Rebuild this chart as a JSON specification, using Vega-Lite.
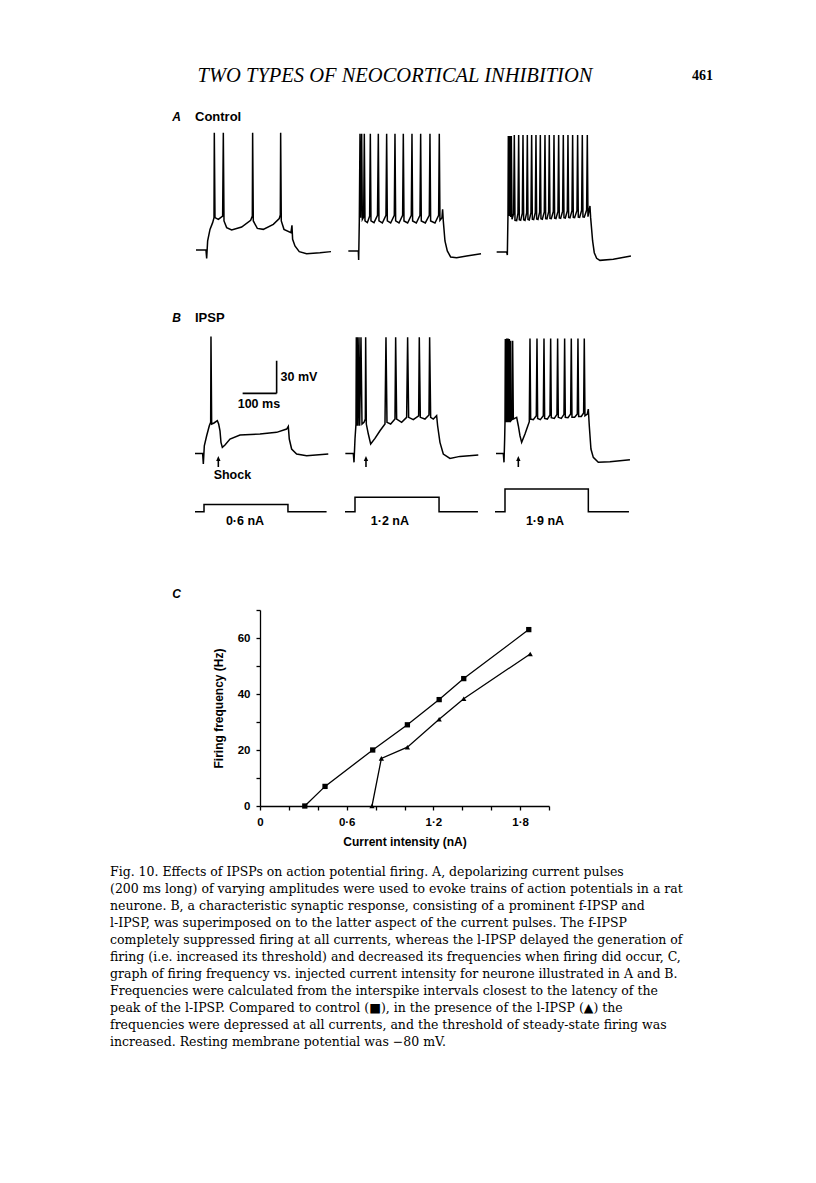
{
"$schema": "https://vega.github.io/schema/vega-lite/v6.json",
"background": "white",
"padding": {"left": 110, "top": 66, "right": 0, "bottom": 0},
"config": {"view": {"stroke": null}, "font": "Liberation Sans"},
"datasets": {
"header": [{"part": "title", "text": "TWO TYPES OF NEOCORTICAL INHIBITION"}, {"part": "page", "text": "461"}],
"labels": [{"row": "A", "kind": "letter", "text": "A"}, {"row": "A", "kind": "name", "text": "Control"}, {"row": "B", "kind": "letter", "text": "B"}, {"row": "B", "kind": "name", "text": "IPSP"}, {"row": "C", "kind": "letter", "text": "C"}],
"traces": [
{"cond":"A1","t":2.9,"v":-79.7},{"cond":"A1","t":32.3,"v":-79.7},{"cond":"A1","t":34.3,"v":-87.5},{"cond":"A1","t":37.2,"v":-71.2},{"cond":"A1","t":44.1,"v":-60.3},{"cond":"A1","t":51.9,"v":-54.0},{"cond":"A1","t":55.9,"v":-49.3},{"cond":"A1","t":56.8,"v":30.4},{"cond":"A1","t":58.8,"v":-49.3},{"cond":"A1","t":68.6,"v":-50.9},{"cond":"A1","t":81.3,"v":-47.8},{"cond":"A1","t":83.3,"v":30.4},{"cond":"A1","t":85.3,"v":-52.4},{"cond":"A1","t":93.1,"v":-58.7},{"cond":"A1","t":107.8,"v":-60.9},{"cond":"A1","t":137.2,"v":-58.1},{"cond":"A1","t":163.7,"v":-51.8},{"cond":"A1","t":168.6,"v":-47.8},{"cond":"A1","t":169.5,"v":30.4},{"cond":"A1","t":171.5,"v":-52.4},{"cond":"A1","t":183.3,"v":-59.4},{"cond":"A1","t":200.9,"v":-60.3},{"cond":"A1","t":230.3,"v":-55.6},{"cond":"A1","t":247.9,"v":-50.1},{"cond":"A1","t":250.9,"v":-46.8},{"cond":"A1","t":251.9,"v":30.4},{"cond":"A1","t":253.8,"v":-52.4},{"cond":"A1","t":261.7,"v":-60.3},{"cond":"A1","t":282.2,"v":-63.4},{"cond":"A1","t":285.2,"v":-56.5},{"cond":"A1","t":287.1,"v":-69.6},{"cond":"A1","t":294,"v":-75.9},{"cond":"A1","t":306.7,"v":-81.2},{"cond":"A1","t":328.3,"v":-83.1},{"cond":"A1","t":367.5,"v":-82.2},{"cond":"A1","t":400,"v":-81.2},
{"cond":"A2","t":9.8,"v":-80.6},{"cond":"A2","t":39.2,"v":-80.6},{"cond":"A2","t":40.2,"v":-89.0},{"cond":"A2","t":42.1,"v":-52.4},{"cond":"A2","t":44.1,"v":29.5},{"cond":"A2","t":46.1,"v":-49.3},{"cond":"A2","t":49,"v":29.5},{"cond":"A2","t":51,"v":-50.9},{"cond":"A2","t":54.9,"v":-48.7},{"cond":"A2","t":56.8,"v":29.5},{"cond":"A2","t":58.8,"v":-52.4},{"cond":"A2","t":65.7,"v":-54.0},{"cond":"A2","t":72.5,"v":-47.8},{"cond":"A2","t":74.5,"v":29.5},{"cond":"A2","t":76.4,"v":-52.4},{"cond":"A2","t":85.3,"v":-54.0},{"cond":"A2","t":95.6,"v":-47.1},{"cond":"A2","t":98,"v":29.5},{"cond":"A2","t":99.9,"v":-52.4},{"cond":"A2","t":109.8,"v":-54.3},{"cond":"A2","t":120.5,"v":-47.1},{"cond":"A2","t":122.5,"v":29.5},{"cond":"A2","t":124.5,"v":-52.4},{"cond":"A2","t":134.3,"v":-54.3},{"cond":"A2","t":145,"v":-47.1},{"cond":"A2","t":147,"v":29.5},{"cond":"A2","t":149,"v":-52.4},{"cond":"A2","t":158.8,"v":-54.3},{"cond":"A2","t":169.5,"v":-47.1},{"cond":"A2","t":171.5,"v":29.5},{"cond":"A2","t":173.5,"v":-52.4},{"cond":"A2","t":184.2,"v":-54.3},{"cond":"A2","t":195,"v":-47.1},{"cond":"A2","t":197,"v":29.5},{"cond":"A2","t":198.9,"v":-52.4},{"cond":"A2","t":209.7,"v":-54.3},{"cond":"A2","t":220.5,"v":-47.1},{"cond":"A2","t":222.5,"v":29.5},{"cond":"A2","t":224.4,"v":-52.4},{"cond":"A2","t":236.2,"v":-54.3},{"cond":"A2","t":247.9,"v":-47.1},{"cond":"A2","t":249.9,"v":29.5},{"cond":"A2","t":251.9,"v":-52.4},{"cond":"A2","t":264.6,"v":-54.3},{"cond":"A2","t":275.4,"v":-47.1},{"cond":"A2","t":277.3,"v":29.5},{"cond":"A2","t":279.3,"v":-51.8},{"cond":"A2","t":285.2,"v":-49.3},{"cond":"A2","t":287.1,"v":-41.5},{"cond":"A2","t":289.1,"v":-52.4},{"cond":"A2","t":294,"v":-71.2},{"cond":"A2","t":300.9,"v":-80.6},{"cond":"A2","t":310.7,"v":-86.2},{"cond":"A2","t":328.3,"v":-86.9},{"cond":"A2","t":357.7,"v":-85.3},{"cond":"A2","t":400,"v":-83.1},
{"cond":"A3","t":4.9,"v":-81.5},{"cond":"A3","t":34.3,"v":-81.5},{"cond":"A3","t":36.3,"v":-84.4},{"cond":"A3","t":38.2,"v":-46.2},{"cond":"A3","t":39.2,"v":27.3},{"cond":"A3","t":40.2,"v":-47.8},{"cond":"A3","t":42.1,"v":27.3},{"cond":"A3","t":43.1,"v":-47.8},{"cond":"A3","t":45.1,"v":27.3},{"cond":"A3","t":46.1,"v":-48.7},{"cond":"A3","t":48,"v":27.3},{"cond":"A3","t":50,"v":-50.9},{"cond":"A3","t":54.9,"v":-45.6},{"cond":"A3","t":56.8,"v":28.3},{"cond":"A3","t":58.8,"v":-51.8},{"cond":"A3","t":63.7,"v":-52.1},
{"cond":"A3","t":67.6,"v":-45.0},{"cond":"A3","t":69.6,"v":28.3},{"cond":"A3","t":71.5,"v":-51.2},{"cond":"A3","t":75.5,"v":-51.8},
{"cond":"A3","t":80.4,"v":-45.0},{"cond":"A3","t":82.3,"v":28.3},{"cond":"A3","t":84.3,"v":-51.2},{"cond":"A3","t":88.2,"v":-51.8},
{"cond":"A3","t":93.1,"v":-44.8},{"cond":"A3","t":95.1,"v":28.3},{"cond":"A3","t":97,"v":-51.0},{"cond":"A3","t":100.9,"v":-51.5},
{"cond":"A3","t":105.8,"v":-44.6},{"cond":"A3","t":107.8,"v":28.3},{"cond":"A3","t":109.8,"v":-50.8},{"cond":"A3","t":113.7,"v":-51.2},
{"cond":"A3","t":118.6,"v":-44.4},{"cond":"A3","t":120.5,"v":28.3},{"cond":"A3","t":122.5,"v":-50.6},{"cond":"A3","t":126.4,"v":-51.0},
{"cond":"A3","t":131.3,"v":-44.2},{"cond":"A3","t":133.3,"v":28.3},{"cond":"A3","t":135.2,"v":-50.4},{"cond":"A3","t":139.2,"v":-50.8},
{"cond":"A3","t":145,"v":-44.0},{"cond":"A3","t":147,"v":28.3},{"cond":"A3","t":149,"v":-50.2},{"cond":"A3","t":152.9,"v":-50.5},
{"cond":"A3","t":157.8,"v":-43.8},{"cond":"A3","t":159.7,"v":28.3},{"cond":"A3","t":161.7,"v":-50.0},{"cond":"A3","t":165.6,"v":-50.3},
{"cond":"A3","t":171.5,"v":-43.6},{"cond":"A3","t":173.5,"v":28.3},{"cond":"A3","t":175.4,"v":-49.8},{"cond":"A3","t":179.3,"v":-50.1},
{"cond":"A3","t":185.2,"v":-43.4},{"cond":"A3","t":187.2,"v":28.3},{"cond":"A3","t":189.1,"v":-49.6},{"cond":"A3","t":193.1,"v":-49.9},
{"cond":"A3","t":198.9,"v":-43.2},{"cond":"A3","t":200.9,"v":28.3},{"cond":"A3","t":202.9,"v":-49.4},{"cond":"A3","t":206.8,"v":-49.7},
{"cond":"A3","t":212.7,"v":-43.0},{"cond":"A3","t":214.6,"v":28.3},{"cond":"A3","t":216.6,"v":-49.2},{"cond":"A3","t":220.5,"v":-49.5},
{"cond":"A3","t":226.4,"v":-42.8},{"cond":"A3","t":228.3,"v":28.3},{"cond":"A3","t":230.3,"v":-49.0},{"cond":"A3","t":234.2,"v":-49.3},
{"cond":"A3","t":241.1,"v":-42.6},{"cond":"A3","t":243,"v":28.3},{"cond":"A3","t":245,"v":-48.8},{"cond":"A3","t":248.9,"v":-49.1},
{"cond":"A3","t":254.8,"v":-42.4},{"cond":"A3","t":256.8,"v":28.3},{"cond":"A3","t":258.7,"v":-48.6},{"cond":"A3","t":262.6,"v":-48.9},
{"cond":"A3","t":269.5,"v":-42.2},{"cond":"A3","t":271.5,"v":28.3},{"cond":"A3","t":273.4,"v":-48.4},
{"cond":"A3","t":277.3,"v":-41.5},{"cond":"A3","t":279.3,"v":-38.4},{"cond":"A3","t":281.3,"v":-49.3},{"cond":"A3","t":287.1,"v":-71.2},{"cond":"A3","t":292,"v":-82.2},{"cond":"A3","t":298.9,"v":-87.5},{"cond":"A3","t":308.7,"v":-89.4},{"cond":"A3","t":347.9,"v":-88.4},{"cond":"A3","t":399.8,"v":-85.3},
{"cond":"B1","t":0,"v":-79.3},{"cond":"B1","t":22.5,"v":-79.3},{"cond":"B1","t":24.5,"v":-89.3},{"cond":"B1","t":27.4,"v":-72.1},{"cond":"B1","t":34.3,"v":-62.7},{"cond":"B1","t":42.1,"v":-53.3},{"cond":"B1","t":46.1,"v":-50.1},{"cond":"B1","t":47,"v":30.7},{"cond":"B1","t":49,"v":-51.7},{"cond":"B1","t":55.9,"v":-50.7},{"cond":"B1","t":65.7,"v":-48.6},{"cond":"B1","t":69.6,"v":-51.7},{"cond":"B1","t":73.5,"v":-58},{"cond":"B1","t":76.4,"v":-68.9},{"cond":"B1","t":80.4,"v":-73.6},{"cond":"B1","t":88.2,"v":-71.4},{"cond":"B1","t":102.9,"v":-65.8},{"cond":"B1","t":132.3,"v":-62},{"cond":"B1","t":191.1,"v":-61.1},{"cond":"B1","t":240.1,"v":-59.5},{"cond":"B1","t":269.5,"v":-56.4},{"cond":"B1","t":274.4,"v":-53.9},{"cond":"B1","t":277.3,"v":-65.8},{"cond":"B1","t":284.2,"v":-75.2},{"cond":"B1","t":298.9,"v":-79.9},{"cond":"B1","t":328.3,"v":-81.5},{"cond":"B1","t":392,"v":-79.9},
{"cond":"B2","t":1,"v":-79.3},{"cond":"B2","t":24.5,"v":-79.3},{"cond":"B2","t":26.5,"v":-87.7},{"cond":"B2","t":29.4,"v":-65.8},{"cond":"B2","t":32.3,"v":-51.7},{"cond":"B2","t":33.3,"v":29.8},{"cond":"B2","t":34.3,"v":-53.3},{"cond":"B2","t":36.3,"v":29.8},{"cond":"B2","t":38.2,"v":-53.3},{"cond":"B2","t":41.2,"v":29.8},{"cond":"B2","t":43.1,"v":-53.3},{"cond":"B2","t":47,"v":29.8},{"cond":"B2","t":50,"v":-51.7},{"cond":"B2","t":55.9,"v":-50.1},{"cond":"B2","t":59.8,"v":-47},{"cond":"B2","t":60.8,"v":29.8},{"cond":"B2","t":62.7,"v":-51.7},{"cond":"B2","t":68.6,"v":-61.1},{"cond":"B2","t":75.5,"v":-70.5},{"cond":"B2","t":88.2,"v":-65.2},{"cond":"B2","t":102.9,"v":-58},{"cond":"B2","t":117.6,"v":-51.7},{"cond":"B2","t":120.5,"v":29.8},{"cond":"B2","t":123.5,"v":-50.1},{"cond":"B2","t":134.3,"v":-51.7},{"cond":"B2","t":147,"v":-47},{"cond":"B2","t":149,"v":29.8},{"cond":"B2","t":151.9,"v":-47},{"cond":"B2","t":166.6,"v":-50.1},{"cond":"B2","t":181.3,"v":-45.4},{"cond":"B2","t":184.2,"v":29.8},{"cond":"B2","t":187.2,"v":-45.4},{"cond":"B2","t":200.9,"v":-47.6},{"cond":"B2","t":216.6,"v":-43.9},{"cond":"B2","t":218.5,"v":29.8},{"cond":"B2","t":221.5,"v":-45.4},{"cond":"B2","t":235.2,"v":-47},{"cond":"B2","t":247,"v":-43.2},{"cond":"B2","t":248.9,"v":29.8},{"cond":"B2","t":251.9,"v":-45.4},{"cond":"B2","t":259.7,"v":-47},{"cond":"B2","t":269.5,"v":-43.9},{"cond":"B2","t":272.4,"v":-53.3},{"cond":"B2","t":279.3,"v":-68.9},{"cond":"B2","t":289.1,"v":-79.9},{"cond":"B2","t":308.7,"v":-84},{"cond":"B2","t":338.1,"v":-82.1},{"cond":"B2","t":392,"v":-80.8},
{"cond":"B3","t":2.9,"v":-79.3},{"cond":"B3","t":24.5,"v":-79.3},{"cond":"B3","t":26.5,"v":-87.7},{"cond":"B3","t":28.4,"v":-65.8},{"cond":"B3","t":29.4,"v":-50.1},{"cond":"B3","t":30.4,"v":28.2},{"cond":"B3","t":31.4,"v":-50.1},{"cond":"B3","t":34.3,"v":28.8},{"cond":"B3","t":35.3,"v":-50.1},{"cond":"B3","t":38.2,"v":28.8},{"cond":"B3","t":39.2,"v":-50.1},{"cond":"B3","t":42.1,"v":28.2},{"cond":"B3","t":43.1,"v":-50.1},{"cond":"B3","t":46.1,"v":26.6},{"cond":"B3","t":47,"v":-48.6},{"cond":"B3","t":51,"v":-47},{"cond":"B3","t":51.9,"v":26.6},{"cond":"B3","t":53.9,"v":-47},{"cond":"B3","t":63.7,"v":-45.4},{"cond":"B3","t":68.6,"v":-53.3},{"cond":"B3","t":73.5,"v":-62.7},{"cond":"B3","t":78.4,"v":-68.9},{"cond":"B3","t":88.2,"v":-61.1},{"cond":"B3","t":95.1,"v":-54.8},{"cond":"B3","t":100.9,"v":-49.5},{"cond":"B3","t":102.9,"v":28.8},{"cond":"B3","t":104.9,"v":-47},{"cond":"B3","t":112.7,"v":-47.6},{"cond":"B3","t":121.5,"v":-43.9},{"cond":"B3","t":123.5,"v":28.8},{"cond":"B3","t":125.4,"v":-46.4},{"cond":"B3","t":133.3,"v":-47.6},{"cond":"B3","t":142.1,"v":-43.9},{"cond":"B3","t":144.1,"v":28.8},{"cond":"B3","t":146,"v":-46.4},{"cond":"B3","t":153.9,"v":-47},{"cond":"B3","t":161.7,"v":-43.2},{"cond":"B3","t":163.7,"v":28.8},{"cond":"B3","t":165.6,"v":-45.7},{"cond":"B3","t":174.4,"v":-46.4},{"cond":"B3","t":182.3,"v":-42.6},{"cond":"B3","t":184.2,"v":28.8},{"cond":"B3","t":186.2,"v":-45.4},{"cond":"B3","t":195,"v":-46.4},{"cond":"B3","t":202.9,"v":-42.6},{"cond":"B3","t":204.8,"v":28.8},{"cond":"B3","t":206.8,"v":-45.4},{"cond":"B3","t":214.6,"v":-45.7},{"cond":"B3","t":222.5,"v":-42.3},{"cond":"B3","t":224.4,"v":28.8},{"cond":"B3","t":226.4,"v":-45.4},{"cond":"B3","t":234.2,"v":-45.4},{"cond":"B3","t":242.1,"v":-42.3},{"cond":"B3","t":244,"v":28.8},{"cond":"B3","t":246,"v":-44.5},{"cond":"B3","t":253.8,"v":-44.5},{"cond":"B3","t":260.7,"v":-41.3},{"cond":"B3","t":262.6,"v":28.8},{"cond":"B3","t":264.6,"v":-43.9},{"cond":"B3","t":271.5,"v":-42.3},{"cond":"B3","t":274.4,"v":-37.6},{"cond":"B3","t":277.3,"v":-53.3},{"cond":"B3","t":282.2,"v":-75.2},{"cond":"B3","t":289.1,"v":-83},{"cond":"B3","t":303.8,"v":-87.7},{"cond":"B3","t":338.1,"v":-87.1},{"cond":"B3","t":396.9,"v":-85.2}
],
"bars": [{"t1": 140.1, "t2": 240.1, "v1": -22.9, "v2": -22.9}, {"t1": 240.1, "t2": 240.1, "v1": -22.9, "v2": 7.8}],
"notes": [{"t": 306, "v": -7.8, "label": "30 mV"}, {"t": 188, "v": -32.9, "label": "100 ms"}, {"t": 110, "v": -99.3, "label": "Shock"}],
"shock": [{"cond": "B1", "t": 68.6, "v": -87}, {"cond": "B2", "t": 61.7, "v": -87}, {"cond": "B3", "t": 68.6, "v": -87}],
"steps": [
{"cond":"C1","t":0,"i":0},{"cond":"C1","t":26.5,"i":0},{"cond":"C1","t":26.5,"i":0.6},{"cond":"C1","t":273.4,"i":0.6},{"cond":"C1","t":273.4,"i":0},{"cond":"C1","t":387,"i":0},
{"cond":"C2","t":0,"i":0},{"cond":"C2","t":29.4,"i":0},{"cond":"C2","t":29.4,"i":1.2},{"cond":"C2","t":276.6,"i":1.2},{"cond":"C2","t":276.6,"i":0},{"cond":"C2","t":391,"i":0},
{"cond":"C3","t":0,"i":0},{"cond":"C3","t":29.4,"i":0},{"cond":"C3","t":29.4,"i":1.9},{"cond":"C3","t":274.5,"i":1.9},{"cond":"C3","t":274.5,"i":0},{"cond":"C3","t":394,"i":0}
],
"steplabels": [{"cond": "C1", "t": 147, "i": -0.77, "label": "0·6 nA"}, {"cond": "C2", "t": 132, "i": -0.77, "label": "1·2 nA"}, {"cond": "C3", "t": 147, "i": -0.77, "label": "1·9 nA"}],
"fi": [
{"series":"control","current":0.31,"freq":0},{"series":"control","current":0.45,"freq":7},{"series":"control","current":0.78,"freq":20},{"series":"control","current":1.02,"freq":29},{"series":"control","current":1.24,"freq":38},{"series":"control","current":1.41,"freq":45.5},{"series":"control","current":1.86,"freq":63},
{"series":"IPSP","current":0.775,"freq":0},{"series":"IPSP","current":0.84,"freq":17},{"series":"IPSP","current":1.02,"freq":21},{"series":"IPSP","current":1.24,"freq":31},{"series":"IPSP","current":1.41,"freq":38.3},{"series":"IPSP","current":1.87,"freq":54.3}
],
"caption": [
{"block":"cap","line":1,"text":"Fig. 10. Effects of IPSPs on action potential firing. A, depolarizing current pulses"},
{"block":"cap","line":2,"text":"(200 ms long) of varying amplitudes were used to evoke trains of action potentials in a rat"},
{"block":"cap","line":3,"text":"neurone. B, a characteristic synaptic response, consisting of a prominent f-IPSP and"},
{"block":"cap","line":4,"text":"l-IPSP, was superimposed on to the latter aspect of the current pulses. The f-IPSP"},
{"block":"cap","line":5,"text":"completely suppressed firing at all currents, whereas the l-IPSP delayed the generation of"},
{"block":"cap","line":6,"text":"firing (i.e. increased its threshold) and decreased its frequencies when firing did occur, C,"},
{"block":"cap","line":7,"text":"graph of firing frequency vs. injected current intensity for neurone illustrated in A and B."},
{"block":"cap","line":8,"text":"Frequencies were calculated from the interspike intervals closest to the latency of the"},
{"block":"cap","line":9,"text":"peak of the l-IPSP. Compared to control (■), in the presence of the l-IPSP (▲) the"},
{"block":"cap","line":10,"text":"frequencies were depressed at all currents, and the threshold of steady-state firing was"},
{"block":"cap","line":11,"text":"increased. Resting membrane potential was −80 mV."}
]
},
"vconcat": [
{"hconcat": [
  {"width": 85, "height": 20, "data": {"values": []}, "mark": "point"},
  {"width": 400, "height": 20, "data": {"name": "header"}, "transform": [{"filter": "datum.part == 'title'"}], "mark": {"type": "text", "font": "Liberation Serif", "fontStyle": "italic", "fontSize": 20.5, "color": "black"}, "encoding": {"text": {"field": "text"}}},
  {"width": 215, "height": 20, "data": {"name": "header"}, "transform": [{"filter": "datum.part == 'page'"}], "mark": {"type": "text", "font": "Liberation Serif", "fontWeight": "bold", "fontSize": 14, "color": "black"}, "encoding": {"text": {"field": "text"}}}
 ], "spacing": 0, "bounds": "flush"},
{"width": 1, "height": 23, "data": {"values": []}, "mark": "point"},
{"hconcat": [
  {"width": 71, "height": 14, "data": {"name": "labels"}, "transform": [{"filter": "datum.row == 'A' && datum.kind == 'letter'"}], "mark": {"type": "text", "align": "right", "baseline": "middle", "fontSize": 12, "fontStyle": "italic", "fontWeight": "bold", "color": "black"}, "encoding": {"x": {"field": "kind", "type": "nominal", "scale": {"type": "point", "padding": 0, "align": 1}, "axis": null}, "text": {"field": "text"}}},
  {"width": 136, "height": 14, "data": {"name": "labels"}, "transform": [{"filter": "datum.row == 'A' && datum.kind == 'name'"}], "mark": {"type": "text", "align": "left", "baseline": "middle", "fontSize": 13, "fontWeight": "bold", "color": "black"}, "encoding": {"x": {"field": "kind", "type": "nominal", "scale": {"type": "point", "padding": 0, "align": 0}, "axis": null}, "text": {"field": "text"}}}
 ], "spacing": 14, "bounds": "flush"},
{"width": 1, "height": 5, "data": {"values": []}, "mark": "point"},
{"hconcat": [
  {"width": 71, "height": 130, "data": {"values": []}, "mark": "point"},
  {"width": 136, "height": 130, "data": {"name": "traces"}, "transform": [{"filter": "datum.cond == 'A1'"}], "mark": {"type": "line", "color": "black", "strokeWidth": 1.5}, "encoding": {"x": {"field": "t", "type": "quantitative", "scale": {"domain": [0, 400], "nice": false, "zero": false}, "axis": null}, "y": {"field": "v", "type": "quantitative", "scale": {"domain": [-90, 32], "nice": false, "zero": false}, "axis": null}}},
  {"width": 136, "height": 130, "data": {"name": "traces"}, "transform": [{"filter": "datum.cond == 'A2'"}], "mark": {"type": "line", "color": "black", "strokeWidth": 1.5}, "encoding": {"x": {"field": "t", "type": "quantitative", "scale": {"domain": [0, 400], "nice": false, "zero": false}, "axis": null}, "y": {"field": "v", "type": "quantitative", "scale": {"domain": [-90, 32], "nice": false, "zero": false}, "axis": null}}},
  {"width": 136, "height": 130, "data": {"name": "traces"}, "transform": [{"filter": "datum.cond == 'A3'"}], "mark": {"type": "line", "color": "black", "strokeWidth": 1.5}, "encoding": {"x": {"field": "t", "type": "quantitative", "scale": {"domain": [0, 400], "nice": false, "zero": false}, "axis": null}, "y": {"field": "v", "type": "quantitative", "scale": {"domain": [-90, 32], "nice": false, "zero": false}, "axis": null}}}
 ], "spacing": 14, "bounds": "flush"},
{"width": 1, "height": 47, "data": {"values": []}, "mark": "point"},
{"hconcat": [
  {"width": 71, "height": 14, "data": {"name": "labels"}, "transform": [{"filter": "datum.row == 'B' && datum.kind == 'letter'"}], "mark": {"type": "text", "align": "right", "baseline": "middle", "fontSize": 12, "fontStyle": "italic", "fontWeight": "bold", "color": "black"}, "encoding": {"x": {"field": "kind", "type": "nominal", "scale": {"type": "point", "padding": 0, "align": 1}, "axis": null}, "text": {"field": "text"}}},
  {"width": 136, "height": 14, "data": {"name": "labels"}, "transform": [{"filter": "datum.row == 'B' && datum.kind == 'name'"}], "mark": {"type": "text", "align": "left", "baseline": "middle", "fontSize": 13, "fontWeight": "bold", "color": "black"}, "encoding": {"x": {"field": "kind", "type": "nominal", "scale": {"type": "point", "padding": 0, "align": 0}, "axis": null}, "text": {"field": "text"}}}
 ], "spacing": 14, "bounds": "flush"},
{"width": 1, "height": 8, "data": {"values": []}, "mark": "point"},
{"hconcat": [
  {"width": 71, "height": 150, "data": {"values": []}, "mark": "point"},
  {"width": 136, "height": 150,
   "layer": [
    {"data": {"name": "traces"}, "transform": [{"filter": "datum.cond == 'B1'"}], "mark": {"type": "line", "color": "black", "strokeWidth": 1.5}, "encoding": {"x": {"field": "t", "type": "quantitative", "scale": {"domain": [0, 400], "nice": false, "zero": false}, "axis": null}, "y": {"field": "v", "type": "quantitative", "scale": {"domain": [-109, 32], "nice": false, "zero": false}, "axis": null}}},
    {"data": {"name": "bars"}, "mark": {"type": "rule", "color": "black", "strokeWidth": 1.6}, "encoding": {"x": {"field": "t1", "type": "quantitative", "scale": {"domain": [0, 400], "nice": false, "zero": false}, "axis": null}, "x2": {"field": "t2"}, "y": {"field": "v1", "type": "quantitative", "scale": {"domain": [-109, 32], "nice": false, "zero": false}, "axis": null}, "y2": {"field": "v2"}}},
    {"data": {"name": "notes"}, "mark": {"type": "text", "fontWeight": "bold", "fontSize": 12.5, "color": "black"}, "encoding": {"x": {"field": "t", "type": "quantitative", "scale": {"domain": [0, 400], "nice": false, "zero": false}, "axis": null}, "y": {"field": "v", "type": "quantitative", "scale": {"domain": [-109, 32], "nice": false, "zero": false}, "axis": null}, "text": {"field": "label"}}},
    {"data": {"name": "shock"}, "transform": [{"filter": "datum.cond == 'B1'"}], "mark": {"type": "point", "shape": "arrow", "filled": true, "color": "black", "opacity": 1, "size": 120}, "encoding": {"x": {"field": "t", "type": "quantitative", "scale": {"domain": [0, 400], "nice": false, "zero": false}, "axis": null}, "y": {"field": "v", "type": "quantitative", "scale": {"domain": [-109, 32], "nice": false, "zero": false}, "axis": null}}}
   ]},
  {"width": 136, "height": 150,
   "layer": [
    {"data": {"name": "traces"}, "transform": [{"filter": "datum.cond == 'B2'"}], "mark": {"type": "line", "color": "black", "strokeWidth": 1.5}, "encoding": {"x": {"field": "t", "type": "quantitative", "scale": {"domain": [0, 400], "nice": false, "zero": false}, "axis": null}, "y": {"field": "v", "type": "quantitative", "scale": {"domain": [-109, 32], "nice": false, "zero": false}, "axis": null}}},
    {"data": {"name": "shock"}, "transform": [{"filter": "datum.cond == 'B2'"}], "mark": {"type": "point", "shape": "arrow", "filled": true, "color": "black", "opacity": 1, "size": 120}, "encoding": {"x": {"field": "t", "type": "quantitative", "scale": {"domain": [0, 400], "nice": false, "zero": false}, "axis": null}, "y": {"field": "v", "type": "quantitative", "scale": {"domain": [-109, 32], "nice": false, "zero": false}, "axis": null}}}
   ]},
  {"width": 136, "height": 150,
   "layer": [
    {"data": {"name": "traces"}, "transform": [{"filter": "datum.cond == 'B3'"}], "mark": {"type": "line", "color": "black", "strokeWidth": 1.5}, "encoding": {"x": {"field": "t", "type": "quantitative", "scale": {"domain": [0, 400], "nice": false, "zero": false}, "axis": null}, "y": {"field": "v", "type": "quantitative", "scale": {"domain": [-109, 32], "nice": false, "zero": false}, "axis": null}}},
    {"data": {"name": "shock"}, "transform": [{"filter": "datum.cond == 'B3'"}], "mark": {"type": "point", "shape": "arrow", "filled": true, "color": "black", "opacity": 1, "size": 120}, "encoding": {"x": {"field": "t", "type": "quantitative", "scale": {"domain": [0, 400], "nice": false, "zero": false}, "axis": null}, "y": {"field": "v", "type": "quantitative", "scale": {"domain": [-109, 32], "nice": false, "zero": false}, "axis": null}}}
   ]}
 ], "spacing": 14, "bounds": "flush"},
{"hconcat": [
  {"width": 71, "height": 42, "data": {"values": []}, "mark": "point"},
  {"width": 136, "height": 42, "layer": [
    {"data": {"name": "steps"}, "transform": [{"filter": "datum.cond == 'C1'"}], "mark": {"type": "line", "color": "black", "strokeWidth": 1.5}, "encoding": {"x": {"field": "t", "type": "quantitative", "scale": {"domain": [0, 400], "nice": false, "zero": false}, "axis": null}, "y": {"field": "i", "type": "quantitative", "scale": {"domain": [-1.44, 2.06], "nice": false, "zero": false}, "axis": null}}},
    {"data": {"name": "steplabels"}, "transform": [{"filter": "datum.cond == 'C1'"}], "mark": {"type": "text", "fontWeight": "bold", "fontSize": 12.5, "color": "black"}, "encoding": {"x": {"field": "t", "type": "quantitative", "scale": {"domain": [0, 400], "nice": false, "zero": false}, "axis": null}, "y": {"field": "i", "type": "quantitative", "scale": {"domain": [-1.44, 2.06], "nice": false, "zero": false}, "axis": null}, "text": {"field": "label"}}}
  ]},
  {"width": 136, "height": 42, "layer": [
    {"data": {"name": "steps"}, "transform": [{"filter": "datum.cond == 'C2'"}], "mark": {"type": "line", "color": "black", "strokeWidth": 1.5}, "encoding": {"x": {"field": "t", "type": "quantitative", "scale": {"domain": [0, 400], "nice": false, "zero": false}, "axis": null}, "y": {"field": "i", "type": "quantitative", "scale": {"domain": [-1.44, 2.06], "nice": false, "zero": false}, "axis": null}}},
    {"data": {"name": "steplabels"}, "transform": [{"filter": "datum.cond == 'C2'"}], "mark": {"type": "text", "fontWeight": "bold", "fontSize": 12.5, "color": "black"}, "encoding": {"x": {"field": "t", "type": "quantitative", "scale": {"domain": [0, 400], "nice": false, "zero": false}, "axis": null}, "y": {"field": "i", "type": "quantitative", "scale": {"domain": [-1.44, 2.06], "nice": false, "zero": false}, "axis": null}, "text": {"field": "label"}}}
  ]},
  {"width": 136, "height": 42, "layer": [
    {"data": {"name": "steps"}, "transform": [{"filter": "datum.cond == 'C3'"}], "mark": {"type": "line", "color": "black", "strokeWidth": 1.5}, "encoding": {"x": {"field": "t", "type": "quantitative", "scale": {"domain": [0, 400], "nice": false, "zero": false}, "axis": null}, "y": {"field": "i", "type": "quantitative", "scale": {"domain": [-1.44, 2.06], "nice": false, "zero": false}, "axis": null}}},
    {"data": {"name": "steplabels"}, "transform": [{"filter": "datum.cond == 'C3'"}], "mark": {"type": "text", "fontWeight": "bold", "fontSize": 12.5, "color": "black"}, "encoding": {"x": {"field": "t", "type": "quantitative", "scale": {"domain": [0, 400], "nice": false, "zero": false}, "axis": null}, "y": {"field": "i", "type": "quantitative", "scale": {"domain": [-1.44, 2.06], "nice": false, "zero": false}, "axis": null}, "text": {"field": "label"}}}
  ]}
 ], "spacing": 14, "bounds": "flush"},
{"width": 1, "height": 58, "data": {"values": []}, "mark": "point"},
{"width": 71, "height": 14, "data": {"name": "labels"}, "transform": [{"filter": "datum.row == 'C'"}], "mark": {"type": "text", "align": "right", "baseline": "middle", "fontSize": 12, "fontStyle": "italic", "fontWeight": "bold", "color": "black"}, "encoding": {"x": {"field": "kind", "type": "nominal", "scale": {"type": "point", "padding": 0, "align": 1}, "axis": null}, "text": {"field": "text"}}},
{"width": 1, "height": 3, "data": {"values": []}, "mark": "point"},
{"hconcat": [
  {"width": 150, "height": 196, "data": {"values": []}, "mark": "point"},
  {"width": 289, "height": 196, "data": {"name": "fi"},
   "encoding": {
     "x": {"field": "current", "type": "quantitative", "scale": {"domain": [0, 2], "nice": false, "zero": false},
       "axis": {"title": "Current intensity (nA)", "values": [0, 0.2, 0.4, 0.6, 0.8, 1, 1.2, 1.4, 1.6, 1.8, 2],
         "labelExpr": "datum.value == 0 ? '0' : (abs(datum.value - 0.6) < 0.01 ? '0·6' : (abs(datum.value - 1.2) < 0.01 ? '1·2' : (abs(datum.value - 1.8) < 0.01 ? '1·8' : '')))",
         "grid": false, "domainColor": "black", "domainWidth": 1.3, "tickColor": "black", "tickWidth": 1.3, "tickSize": 4, "labelPadding": 6, "labelFlush": false, "labelOverlap": false,
         "labelFontWeight": "bold", "labelFontSize": 11.5, "labelColor": "black",
         "titleFontWeight": "bold", "titleFontSize": 12, "titleColor": "black", "titlePadding": 9}},
     "y": {"field": "freq", "type": "quantitative", "scale": {"domain": [0, 70], "nice": false},
       "axis": {"title": "Firing frequency (Hz)", "values": [0, 10, 20, 30, 40, 50, 60, 70],
         "labelExpr": "datum.value % 20 == 0 ? datum.label : ''",
         "grid": false, "domainColor": "black", "domainWidth": 1.3, "tickColor": "black", "tickWidth": 1.3, "tickSize": 4, "labelPadding": 6, "labelFlush": false, "labelOverlap": false,
         "labelFontWeight": "bold", "labelFontSize": 11.5, "labelColor": "black",
         "titleFontWeight": "bold", "titleFontSize": 12, "titleColor": "black", "titlePadding": 12}}
   },
   "layer": [
     {"mark": {"type": "line", "color": "black", "strokeWidth": 1.3}, "encoding": {"detail": {"field": "series"}}},
     {"mark": {"type": "point", "filled": true, "color": "black", "opacity": 1, "size": 28}, "encoding": {"shape": {"field": "series", "type": "nominal", "scale": {"domain": ["control", "IPSP"], "range": ["square", "triangle-up"]}, "legend": null}}}
   ]}
 ], "spacing": 0, "bounds": "flush"},
{"width": 1, "height": 16, "data": {"values": []}, "mark": "point"},
{"width": 575, "height": 186, "data": {"name": "caption"},
 "mark": {"type": "text", "align": "left", "baseline": "middle", "font": "DejaVu Serif", "fontSize": 12.5, "color": "black"},
 "encoding": {
   "y": {"field": "line", "type": "ordinal", "scale": {"type": "band", "paddingInner": 0, "paddingOuter": 0}, "axis": null},
   "x": {"field": "block", "type": "nominal", "scale": {"type": "point", "padding": 0, "align": 0}, "axis": null},
   "text": {"field": "text"}
 }}
],
"spacing": 0
}
